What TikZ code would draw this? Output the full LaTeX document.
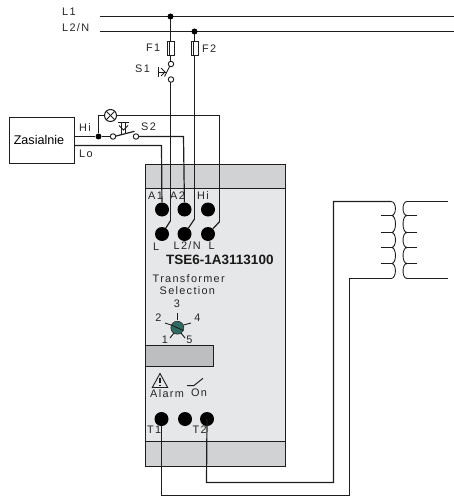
\documentclass[tikz,border=0pt]{standalone}
\usepackage{fontspec}
\setmainfont{Liberation Sans}
\newfontfamily\spaced[LetterSpace=12]{Liberation Sans}
\definecolor{devfill}{HTML}{E6E7E8}
\definecolor{bandfill}{HTML}{D1D2D4}
\definecolor{winfill}{HTML}{BDBEC0}
\definecolor{knob}{HTML}{2F6B63}
\definecolor{wire}{HTML}{1E1E1E}
\tikzset{
  wr/.style={draw=wire,line width=1.2pt},
  tn/.style={draw=wire,line width=0.9pt},
  term/.style={circle,fill=black,inner sep=0pt,minimum size=14pt},
  junction/.style={circle,fill=black,inner sep=0pt,minimum size=6pt},
  openc/.style={circle,draw=wire,fill=white,line width=0.9pt,inner sep=0pt,minimum size=5.5pt},
  fuse/.style={rectangle,draw=wire,fill=white,line width=0.9pt,inner sep=0pt,minimum width=7pt,minimum height=14.5pt},
  lamps/.style={circle,draw=wire,line width=1pt,fill=white,inner sep=0pt,minimum size=12pt},
  lbl/.style={inner sep=0pt,font=\spaced\fontsize{10.9}{12}\selectfont,text=black!85},
  lblb/.style={inner sep=0pt,font=\fontsize{13.5}{15}\selectfont\bfseries,text=black!90},
}
\begin{document}
\begin{tikzpicture}[x=1pt,y=-1pt]
\useasboundingbox (0,0) rectangle (454,497);
% device body
\path[fill=devfill,draw=wire,line width=0.9pt] (145.5,164.5) rectangle (285.5,466.5);
\path[fill=bandfill,draw=wire,line width=0.9pt] (145.5,164.5) rectangle (285.5,188.5);
\path[fill=bandfill,draw=wire,line width=0.9pt] (145.5,441.5) rectangle (285.5,466.5);
\path[fill=winfill,draw=wire,line width=0.9pt] (145.5,345.5) rectangle (213.5,366.5);
% buses
\coordinate (l1s) at (100,16.5); \coordinate (l1e) at (454,16.5);
\coordinate (l2s) at (100,31.5); \coordinate (l2e) at (454,31.5);
\draw[wr] (l1s) -- (l1e);
\draw[wr] (l2s) -- (l2e);
% terminals
\node[term] (a1) at (162,209.5) {};
\node[term] (a2) at (184.5,209.5) {};
\node[term] (hi) at (208,209.5) {};
\node[term] (tl) at (162,234) {};
\node[term] (tnn) at (184.5,234) {};
\node[term] (tr) at (208,234) {};
\node[term] (t1) at (161.5,419) {};
\node[term] (tm) at (185,419) {};
\node[term] (t2) at (207,419) {};
% named bends
\coordinate (b1) at (170.5,220.7);
\coordinate (b2) at (194.5,219);
\coordinate (b3) at (219.5,221.7);
\coordinate (c1) at (161.5,145.5);
\coordinate (c2) at (183.5,136.5);
\coordinate (c3) at (219.5,115.5);
\coordinate (c4) at (98.5,115.5);
% feed wires
\coordinate (j1) at (170.5,16.5);
\coordinate (j2) at (194.5,31.5);
\coordinate (fc1) at (170.5,48.7);
\coordinate (fc2) at (194.5,48.7);
\coordinate (sc1) at (171,64);
\coordinate (sc2) at (171,79.5);
\draw[wr] (j1) -- (fc1 |- sc1);
\draw[wr] (j2) -- (b2);
\draw[wr] (b2) -- (tnn);
\draw[wr] (fc1 |- sc2) -- (b1);
\draw[wr] (b1) -- (tl);
\node[fuse] (f1) at (fc1) {};
\node[fuse] (f2) at (fc2) {};
\draw[tn] ([xshift=-1pt]f1.north) -- ([xshift=-1pt]f1.south);
\draw[tn] ([xshift=-1pt]f2.north) -- ([xshift=-1pt]f2.south);
\node[junction] at (j1) {};
\node[junction] at (j2) {};
\node[openc] (s1a) at (sc1) {};
\node[openc] (s1b) at (sc2) {};
% S1 symbol
\draw[tn] (169.7,66.3) -- (164.5,76.5);
\draw[tn] (158.5,67.5) -- (158.5,77);
\draw[tn] (158.5,72) -- (166.5,72);
\draw[tn] (161,68) -- (165,72) -- (161,76);
% control box
\node[draw=wire,line width=0.9pt,minimum width=65pt,minimum height=46pt,inner sep=0pt] (box) at (41.5,140) {};
\node[inner sep=0pt,font=\fontsize{12.6}{14}\selectfont] (boxt) at (39,139.5) {Zasialnie};
\node[junction] (j3) at (98.5,136.5) {};
\node[openc] (s2a) at (113,136.5) {};
\node[openc] (s2b) at (136,136.5) {};
\draw[wr] (box.east |- j3) -- (j3) -- (s2a);
\draw[wr] (box.east |- c1) -- (c1) -- (a1);
\draw[wr] (s2b) -- (c2) -- (a2);
\draw[wr] (j3) -- (c4) -- (c3) -- (b3);
\draw[wr] (b3) -- (tr);
\node[lamps] (lamp) at (110.5,115.5) {};
\draw[tn] (lamp.45) -- (lamp.225);
\draw[tn] (lamp.135) -- (lamp.315);
% S2 symbol
\draw[wr] (115.5,136.2) -- (134.5,131.3);
\draw[tn] (118.2,122.5) -- (129,122.5);
\draw[tn] (121.5,122.5) -- (121.5,134);
\draw[tn] (125.5,122.5) -- (125.5,133.5);
\draw[tn] (119,125.5) -- (123.5,130) -- (128,125.5);
% transformer wires
\coordinate (r1) at (161.5,495.5);
\coordinate (r2) at (349.5,495.5);
\coordinate (r3) at (349.5,278.5);
\coordinate (r4) at (391,278.5);
\coordinate (q1) at (206.5,482.5);
\coordinate (q2) at (333.5,482.5);
\coordinate (q3) at (333.5,201.5);
\coordinate (q4) at (391,201.5);
\draw[wr] (t1) -- (r1) -- (r2) -- (r3) -- (r4);
\draw[wr] (t2 |- 0,419) -- (q1) -- (q2) -- (q3) -- (q4);
% coils
\draw[tn] (q4)
  .. controls (396.8,201.5) and (396.8,215.5) .. (391.5,215.5)
  .. controls (396.8,215.5) and (396.8,232.5) .. (391.5,232.5)
  .. controls (396.8,232.5) and (396.8,247.5) .. (391.5,247.5)
  .. controls (396.8,247.5) and (396.8,263.5) .. (391.5,263.5)
  .. controls (396.8,263.5) and (396.8,278.5) .. (r4);
\coordinate (s1) at (448.3,201.5);
\coordinate (s2) at (448.3,278.5);
\draw[wr] (s1) -- (407,201.5);
\draw[wr] (s2) -- (407,278.5);
\draw[tn] (407,201.5)
  .. controls (401.7,201.5) and (401.7,215.5) .. (407,215.5)
  .. controls (401.7,215.5) and (401.7,232.5) .. (407,232.5)
  .. controls (401.7,232.5) and (401.7,247.5) .. (407,247.5)
  .. controls (401.7,247.5) and (401.7,263.5) .. (407,263.5)
  .. controls (401.7,263.5) and (401.7,278.5) .. (407,278.5);
\foreach \yy in {215.5,232.5,247.5,263.5}{
  \draw[wr] (381,\yy) -- (391.5,\yy);
  \draw[wr] (407,\yy) -- (417,\yy);
}
% rotary
\draw[tn] (177.5,313) -- (177.5,320);
\draw[tn] (165,323) -- (171,325);
\draw[tn] (183.5,325) -- (191,323);
\draw[tn] (170,338) -- (174,333);
\draw[tn] (181,333) -- (185,338);
\node[circle,fill=knob,draw=wire,line width=0.5pt,inner sep=0pt,minimum size=13pt] (knobn) at (177.3,327.7) {};
\draw[tn] (171.3,325) -- (183.5,330.5);
% warning and On symbols
\draw[tn,line join=miter] (160,373.5) -- (167.7,387.5) -- (152.3,387.5) -- cycle;
\draw[tn,line width=1.1pt] (160,377.5) -- (160,383);
\draw[tn,line width=1.1pt] (160,384.5) -- (160,386);
\draw[tn,line width=1pt] (187,385.5) -- (194,385.5) -- (203,378.3);
% labels
\node[lbl,anchor=west] at (62,12) {L1};
\node[lbl,anchor=west] at (62,27.5) {L2/N};
\node[lbl,anchor=west] at (146,48) {F1};
\node[lbl,anchor=west] at (202,49) {F2};
\node[lbl,anchor=west] at (135,69) {S1};
\node[lbl,anchor=west] at (141,126.5) {S2};
\node[lbl,anchor=west] at (79,127.5) {Hi};
\node[lbl,anchor=west] at (79,153.5) {Lo};
\node[lbl,anchor=west] at (148,195.5) {A1};
\node[lbl,anchor=west] at (170,195.5) {A2};
\node[lbl,anchor=west] at (197,195.5) {Hi};
\node[lbl,anchor=west] at (153,247) {L};
\node[lbl,anchor=west] at (173.5,245.5) {L2/N};
\node[lbl,anchor=west] at (208.5,246) {L};
\node[lblb,anchor=west] at (166,259.5) {TSE6-1A3113100};
\node[lbl,anchor=west] at (152.5,278.5) {Transformer};
\node[lbl,anchor=west] at (159.5,291) {Selection};
\node[lbl] at (177,303.5) {3};
\node[lbl] at (158.5,317.5) {2};
\node[lbl] at (197.5,318) {4};
\node[lbl] at (165,339.5) {1};
\node[lbl] at (189.5,339.5) {5};
\node[lbl,anchor=west] at (150,394) {Alarm};
\node[lbl,anchor=west] at (191,393) {On};
\node[lbl,anchor=west] at (147,429.5) {T1};
\node[lbl,anchor=west] at (192.5,429.5) {T2};
\end{tikzpicture}
\end{document}
